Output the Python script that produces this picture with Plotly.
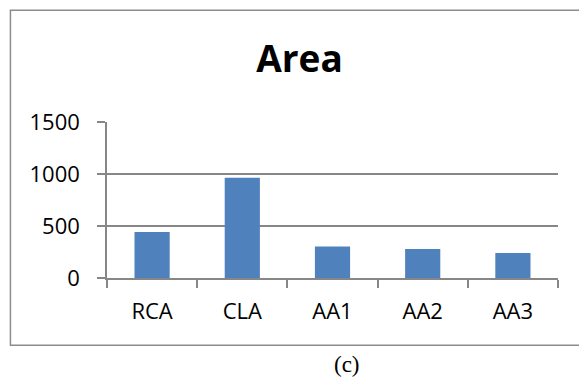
import plotly.graph_objects as go

# Chart data
categories = ["RCA", "CLA", "AA1", "AA2", "AA3"]
area_values = [442, 965, 302, 279, 240]
y_tick_values = [0, 500, 1000, 1500]
y_tick_labels = ["0", "500", "1000", "1500"]

W, H = 579, 378
L, R, T, B = 107, 21.3, 121.7, 100.3
plot_w = W - L - R
plot_h = H - T - B

def px_to_paper_x(px):
    return (px - L) / plot_w

def px_to_paper_y(py):
    return (H - B - py) / plot_h

grid_col = "#878787"
bar_col = "#4F81BD"

fig = go.Figure(
    go.Bar(
        x=categories,
        y=area_values,
        marker=dict(color=bar_col, line=dict(width=0)),
    )
)

fig.update_layout(
    width=W,
    height=H,
    margin=dict(l=L, r=R, t=T, b=B, autoexpand=False),
    paper_bgcolor="white",
    plot_bgcolor="white",
    bargap=0.61,
    showlegend=False,
    title=dict(
        text="<b>Area</b>",
        font=dict(family="Open Sans", size=37, color="black"),
        xref="container",
        x=299.5 / W,
        xanchor="center",
        yref="container",
        y=1 - 59 / H,
        yanchor="middle",
    ),
    font=dict(family="Open Sans", color="black"),
)

fig.update_xaxes(
    type="category",
    tickson="boundaries",
    ticks="outside",
    ticklen=8,
    tickwidth=1.5,
    tickcolor=grid_col,
    showline=True,
    linecolor=grid_col,
    linewidth=1.5,
    showgrid=False,
    tickfont=dict(family="Open Sans", size=22, color="black"),
    ticklabelstandoff=13,
)

fig.update_yaxes(
    range=[0, 1500],
    tickvals=y_tick_values,
    ticktext=y_tick_labels,
    ticks="outside",
    ticklen=8,
    tickwidth=1.5,
    tickcolor=grid_col,
    showline=True,
    linecolor=grid_col,
    linewidth=1.5,
    showgrid=True,
    gridcolor=grid_col,
    gridwidth=1.5,
    zeroline=False,
    tickfont=dict(family="Open Sans", size=22, color="black"),
    ticklabelstandoff=13,
)

# Outer chart border
fig.add_shape(
    type="rect",
    xref="paper",
    yref="paper",
    x0=px_to_paper_x(10.5),
    x1=px_to_paper_x(590),
    y0=px_to_paper_y(345),
    y1=px_to_paper_y(10),
    line=dict(color="#8c8c8c", width=1.5),
    layer="below",
)

# Panel caption
fig.add_annotation(
    text="(c)",
    xref="paper",
    yref="paper",
    x=px_to_paper_x(347),
    y=px_to_paper_y(364),
    xanchor="center",
    yanchor="middle",
    showarrow=False,
    font=dict(family="Liberation Serif", size=23, color="black"),
)

fig.write_html("out.html")
